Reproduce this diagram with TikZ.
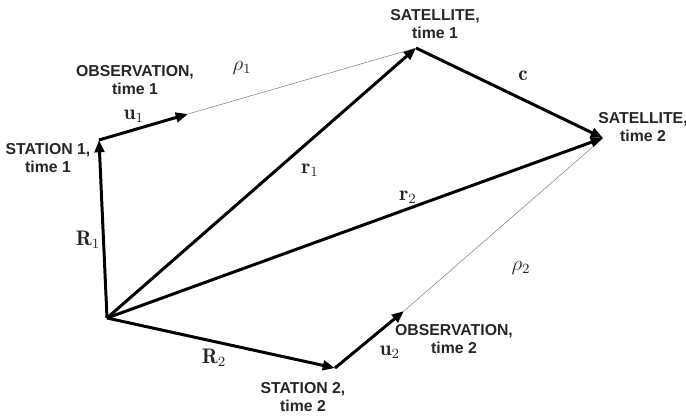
\documentclass[tikz,border=0pt]{standalone}
\usepackage{fontspec}
\setsansfont{Liberation Sans}
\usepackage{amsmath}
\usetikzlibrary{arrows.meta}

\begin{document}
\begin{tikzpicture}[x=0.02cm, y=-0.02cm,
  vec/.style={-{Triangle[length=7pt, width=5.5pt]}, line width=1.7pt, black},
  los/.style={line width=0.3pt, gray},
  lbl/.style={font=\sffamily\bfseries\fontsize{9}{10.5}\selectfont, align=center, text=black!85},
  sym/.style={font=\large, text=black!85}
]
  \useasboundingbox (0,0) rectangle (686,416);
  % points
  \coordinate (orig) at (107,318);
  \coordinate (sta1) at (99,140);
  \coordinate (obs1) at (188,114);
  \coordinate (sat1) at (416,48);
  \coordinate (sat2) at (603,138);
  \coordinate (sta2) at (335,368);
  \coordinate (obs2) at (404,311);
  % vectors
  \draw[los] (obs1) -- (sat1);
  \draw[los] (obs2) -- (sat2);
  \draw[vec] (orig) -- (sta1);
  \draw[vec] (sta1) -- (obs1);
  \draw[vec] (orig) -- (sat1);
  \draw[vec] (orig) -- (sat2);
  \draw[vec] (sat1) -- (sat2);
  \draw[vec] (orig) -- (sta2);
  \draw[vec] (sta2) -- (obs2);
  % place labels
  \node[lbl] (lobs1) at (135,80) {OBSERVATION,\\time 1};
  \node[lbl] (lsta1) at (48,158) {STATION 1,\\time 1};
  \node[lbl] (lsat1) at (435,24) {SATELLITE,\\time 1};
  \node[lbl] (lsat2) at (643,127) {SATELLITE,\\time 2};
  \node[lbl] (lobs2) at (454,339) {OBSERVATION,\\time 2};
  \node[lbl] (lsta2) at (303,397) {STATION 2,\\time 2};
  % vector labels
  \node[sym] (lu1) at (134,116) {$\mathbf{u}_1$};
  \node[sym] (lrho1) at (242,68) {$\rho_1$};
  \node[sym] (lR1) at (88,240) {$\mathbf{R}_1$};
  \node[sym] (lr1) at (310,170) {$\mathbf{r}_1$};
  \node[sym] (lr2) at (408,197) {$\mathbf{r}_2$};
  \node[sym] (lc) at (523,76) {$\mathbf{c}$};
  \node[sym] (lrho2) at (521,268) {$\rho_2$};
  \node[sym] (lR2) at (214,358) {$\mathbf{R}_2$};
  \node[sym] (lu2) at (390,352) {$\mathbf{u}_2$};
\end{tikzpicture}
\end{document}
